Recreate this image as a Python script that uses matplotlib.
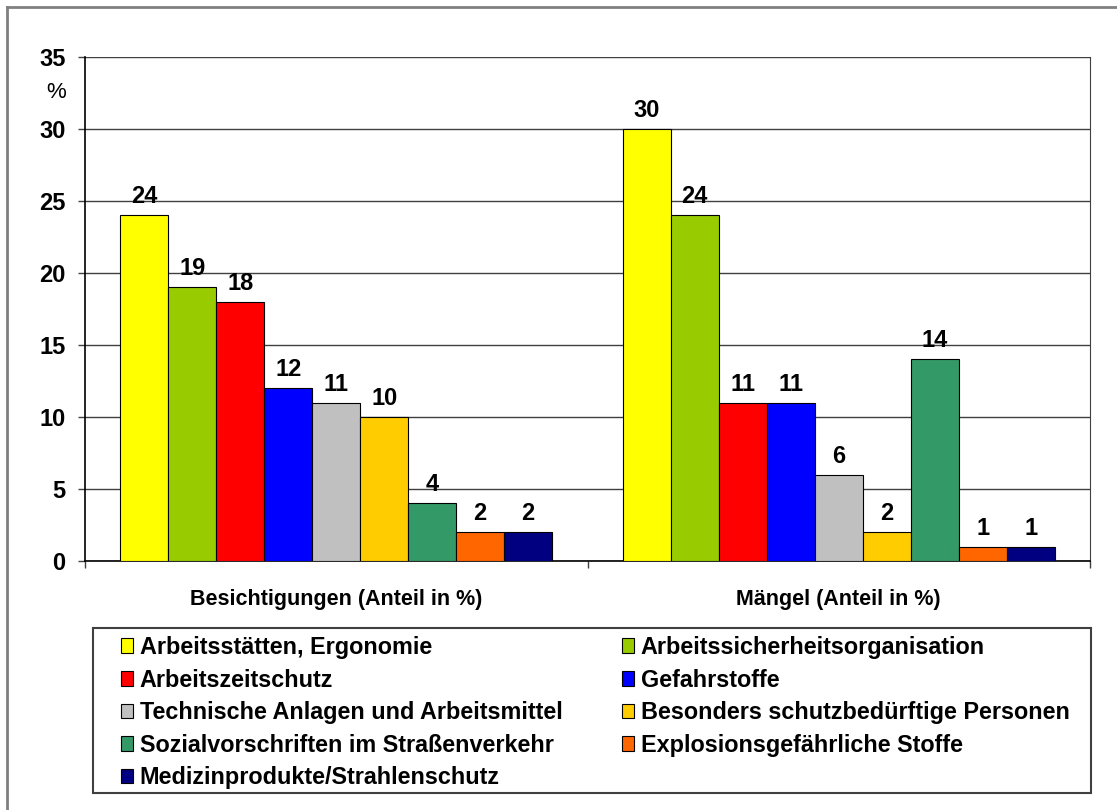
import numpy as np
import matplotlib
matplotlib.use('Agg')
import matplotlib.pyplot as plt
from matplotlib.patches import Rectangle
from matplotlib.lines import Line2D

plt.rcParams['font.family'] = ['Liberation Sans', 'DejaVu Sans']

# data
groups = ['Besichtigungen (Anteil in %)', 'Mängel (Anteil in %)']
topics = ['Arbeitsstätten, Ergonomie',
          'Arbeitssicherheitsorganisation',
          'Arbeitszeitschutz',
          'Gefahrstoffe',
          'Technische Anlagen und Arbeitsmittel',
          'Besonders schutzbedürftige Personen',
          'Sozialvorschriften im Straßenverkehr',
          'Explosionsgefährliche Stoffe',
          'Medizinprodukte/Strahlenschutz']
besichtigungen = [24, 19, 18, 12, 11, 10, 4, 2, 2]
maengel = [30, 24, 11, 11, 6, 2, 14, 1, 1]
colors = ['#FFFF00', '#99CC00', '#FF0000', '#0000FF', '#C0C0C0',
          '#FFCC00', '#339966', '#FF6600', '#000080']

W, H = 1117, 810
fig = plt.figure(figsize=(W / 100, H / 100), dpi=100)
ax = fig.add_axes([85 / W, 1 - 561 / H, 1005 / W, 504 / H])

x = np.arange(len(groups))
w = 0.0955
handles = []
for i in range(len(topics)):
    vals = [besichtigungen[i], maengel[i]]
    bars = ax.bar(x + (i - 4) * w, vals, w, color=colors[i],
                  edgecolor='black', linewidth=0.8, label=topics[i], zorder=3)
    handles.append(bars)
    for b, v in zip(bars, vals):
        ax.annotate(str(v), (b.get_x() + b.get_width() / 2, v),
                    xytext=(0, 5), textcoords='offset points',
                    ha='center', va='bottom', fontsize=17, fontweight='bold')

ax.set_xlim(-0.5, 1.5)
ax.set_ylim(0, 35)
ax.set_yticks(np.arange(0, 36, 5))
ax.tick_params(axis='y', length=5, width=1, color='#404040', pad=9,
               labelsize=17)
for lab in ax.get_yticklabels():
    lab.set_fontweight('bold')
ax.yaxis.grid(True, color='#404040', linewidth=1)
ax.set_axisbelow(True)

ax.set_xticks([-0.5, 0.5, 1.5])
ax.set_xticklabels([])
ax.tick_params(axis='x', which='major', length=5, width=1, color='#404040')
ax.set_xticks(x, minor=True)
ax.set_xticklabels(groups, minor=True, fontsize=15.5, fontweight='bold')
ax.tick_params(axis='x', which='minor', length=0, pad=20)

ax.spines['top'].set_visible(False)
ax.spines['right'].set_color('#404040')
ax.spines['left'].set_color('black')
ax.spines['bottom'].set_color('black')
ax.spines['left'].set_linewidth(1.2)
ax.spines['bottom'].set_linewidth(1.2)

fig.text(56 / W, 1 - 93 / H, '%', fontsize=16, ha='center', va='center')

# outer frame (only top and left visible)
fig.add_artist(Line2D([7 / W, 7 / W], [0, 1 - 7 / H], color='#808080', lw=2))
fig.add_artist(Line2D([7 / W, 1], [1 - 7 / H, 1 - 7 / H], color='#808080', lw=2))

# legend frame
fig.add_artist(Rectangle((93 / W, 1 - 793 / H), 998 / W, 165 / H,
                         transform=fig.transFigure, fill=False,
                         edgecolor='#404040', linewidth=1.5))
order = [0, 2, 4, 6, 8, 1, 3, 5, 7]
leg = fig.legend([handles[k] for k in order], [topics[k] for k in order],
                 loc='upper left', bbox_to_anchor=(121 / W, 1 - 636 / H),
                 ncol=2, frameon=False, borderpad=0, borderaxespad=0,
                 prop={'size': 16.8, 'weight': 'bold'},
                 handlelength=0.5, handleheight=0.6, handletextpad=0.3,
                 labelspacing=0.41, columnspacing=2.55)

fig.savefig('out.png', dpi=100)
